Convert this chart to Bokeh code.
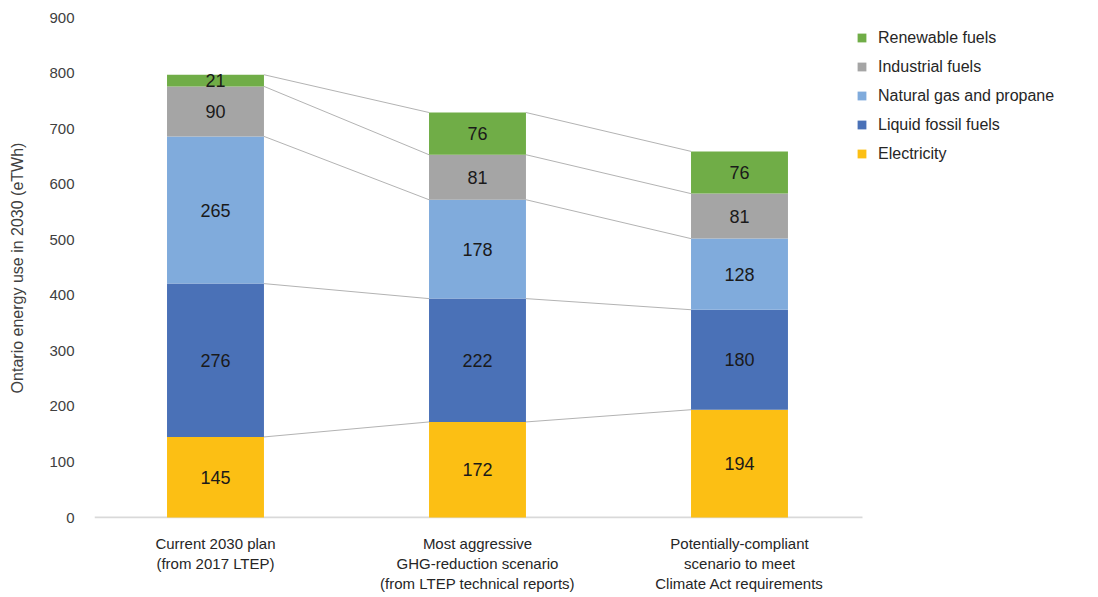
from bokeh.plotting import figure
from bokeh.models import (Range1d, FixedTicker, Legend, LegendItem, ColumnDataSource)
from bokeh.core.properties import value
from bokeh.embed import file_html
from bokeh.resources import INLINE
import numpy as np

categories = ["Current 2030 plan\n(from 2017 LTEP)",
              "Most aggressive\nGHG-reduction scenario\n(from LTEP technical reports)",
              "Potentially-compliant\nscenario to meet\nClimate Act requirements"]
series = ["Electricity", "Liquid fossil fuels", "Natural gas and propane",
          "Industrial fuels", "Renewable fuels"]
electricity = [145, 172, 194]
liquid_fossil = [276, 222, 180]
natural_gas = [265, 178, 128]
industrial = [90, 81, 81]
renewable = [21, 76, 76]
colors = ["#fcbf14", "#4a71b7", "#80abdc", "#a5a5a5", "#70ad47"]

FONT = "Liberation Sans"
values_list = [electricity, liquid_fossil, natural_gas, industrial, renewable]
x = np.arange(len(categories))
W = 0.37
X0, XAXIS_END = -0.4618, 2.4695

p = figure(frame_width=978, frame_height=501, output_backend="svg",
           toolbar_location=None, x_range=Range1d(X0, X0 + 978 / 262),
           y_range=Range1d(-1.8, 900), min_border_left=94, min_border_top=17,
           min_border_bottom=72, min_border_right=4)
p.outline_line_color = None
p.xgrid.visible = False
p.ygrid.visible = False

# baseline (category axis line) only under the bars area
p.segment(x0=[X0], y0=[0], x1=[XAXIS_END], y1=[0], line_color="#d9d9d9", line_width=2)

src = ColumnDataSource(dict(x=x, **{s: v for s, v in zip(series, values_list)}))
renderers = p.vbar_stack(series, x="x", width=W, color=colors, source=src,
                         line_color=None)

# connector lines and value labels
cum = np.cumsum(np.array(values_list), axis=0)
bottoms = cum - np.array(values_list)
x0s, y0s, x1s, y1s = [], [], [], []
for k in range(len(series)):
    for i in range(len(categories) - 1):
        x0s.append(x[i] + W / 2); y0s.append(cum[k][i])
        x1s.append(x[i + 1] - W / 2); y1s.append(cum[k][i + 1])
p.segment(x0=x0s, y0=y0s, x1=x1s, y1=y1s, line_color="#b3b3b3", line_width=1)

lx, ly, lt = [], [], []
for k in range(len(series)):
    for i in range(len(categories)):
        lx.append(x[i]); ly.append((cum[k][i] + bottoms[k][i]) / 2)
        lt.append(str(values_list[k][i]))
p.text(x=lx, y=ly, text=lt, text_align="center", text_baseline="middle",
       text_font=value(FONT), text_font_size="18px", text_color="#1a1a1a")

# axes
p.yaxis.ticker = FixedTicker(ticks=list(range(0, 901, 100)))
p.yaxis.axis_line_color = None
p.yaxis.major_tick_line_color = None
p.yaxis.minor_tick_line_color = None
p.yaxis.major_label_standoff = 14
p.yaxis.major_label_text_font = FONT
p.yaxis.major_label_text_font_size = "15px"
p.yaxis.major_label_text_color = "#404040"
p.yaxis.axis_label = "Ontario energy use in 2030 (eTWh)"
p.yaxis.axis_label_text_font = FONT
p.yaxis.axis_label_text_font_size = "16px"
p.yaxis.axis_label_text_font_style = "normal"
p.yaxis.axis_label_text_color = "#404040"
p.yaxis.axis_label_standoff = 20

p.xaxis.ticker = FixedTicker(ticks=list(x))
p.xaxis.major_label_overrides = {int(i): c for i, c in zip(x, categories)}
p.xaxis.axis_line_color = None
p.xaxis.major_tick_line_color = None
p.xaxis.minor_tick_line_color = None
p.xaxis.major_label_standoff = 10
p.xaxis.major_label_text_font = FONT
p.xaxis.major_label_text_font_size = "15px"
p.xaxis.major_label_text_color = "#262626"
p.xaxis.major_label_text_line_height = 1.2

items = [LegendItem(label=s, renderers=[r]) for s, r in zip(series, renderers)][::-1]
legend = Legend(items=items, location=(762, 350), margin=0, padding=6,
                glyph_width=11, glyph_height=11, label_standoff=11,
                label_height=29, spacing=0, border_line_color=None,
                label_text_font=FONT, label_text_font_size="16px",
                label_text_color="#262626", background_fill_alpha=0)
p.add_layout(legend, "center")

open("out.html", "w").write(file_html(p, INLINE))
